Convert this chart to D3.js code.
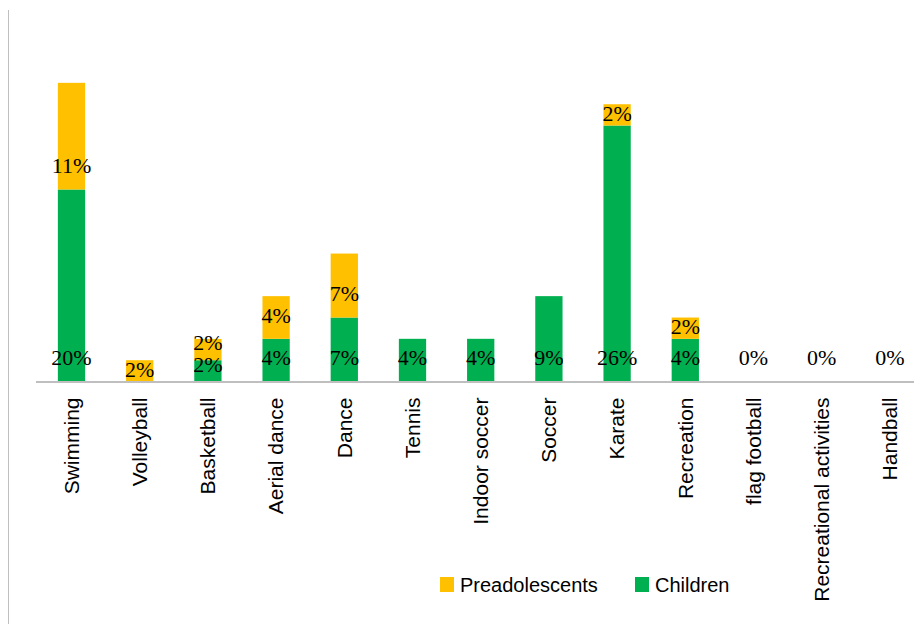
<!DOCTYPE html>
<html>
<head>
<meta charset="utf-8">
<script src="https://cdn.jsdelivr.net/npm/d3@7"></script>
<style>
  html, body { margin: 0; padding: 0; background: #fff; }
  svg { display: block; }
</style>
</head>
<body>
<div id="chart"></div>
<script>
const categories = ["Swimming", "Volleyball", "Basketball", "Aerial dance", "Dance", "Tennis",
  "Indoor soccer", "Soccer", "Karate", "Recreation", "flag football", "Recreational activities", "Handball"];
// Percent values (labels show rounded values)
const children = [19.57, 0, 2.17, 4.35, 6.52, 4.35, 4.35, 8.70, 26.09, 4.35, 0, 0, 0];
const preadolescents = [10.87, 2.17, 2.17, 4.35, 6.52, 0, 0, 0, 2.17, 2.17, 0, 0, 0];
const seriesNames = ["Children", "Preadolescents"];
const legendOrder = ["Preadolescents", "Children"];
const colors = { "Children": "#00B050", "Preadolescents": "#FFC000" };

const W = 914, H = 624;
const svg = d3.select("#chart").append("svg").attr("width", W).attr("height", H);

const baseY = 381.5;
const x = d3.scaleBand().domain(categories).range([37.4, 924]).paddingInner(0.6).paddingOuter(0.3);
const y = d3.scaleLinear().domain([0, 35]).range([baseY, baseY - 343.4]);

// left border line
svg.append("line").attr("x1", 8.5).attr("x2", 8.5).attr("y1", 10).attr("y2", H)
  .attr("stroke", "#BFBFBF").attr("stroke-width", 1);

const table = categories.map((c, i) => ({ cat: c, Children: children[i], Preadolescents: preadolescents[i] }));
const stack = d3.stack().keys(seriesNames)(table);

const g = svg.append("g");
stack.forEach(layer => {
  g.selectAll(null).data(layer).enter().append("rect")
    .attr("x", d => x(d.data.cat))
    .attr("width", x.bandwidth())
    .attr("y", d => y(d[1]))
    .attr("height", d => y(d[0]) - y(d[1]))
    .attr("fill", colors[layer.key]);
});

// axis line
svg.append("line").attr("x1", 36).attr("x2", W).attr("y1", 382).attr("y2", 382)
  .attr("stroke", "#BFBFBF").attr("stroke-width", 2);

// data labels (inside base)
const fmt = v => Math.round(v) + "%";
const labels = svg.append("g").attr("font-family", "'Liberation Serif', 'DejaVu Serif', serif")
  .attr("font-size", 22).attr("fill", "#000").attr("text-anchor", "middle");
stack.forEach(layer => {
  layer.forEach((d, i) => {
    const v = d[1] - d[0];
    const isChild = layer.key === "Children";
    const total = children[i] + preadolescents[i];
    if (v === 0 && !(isChild && total === 0)) return;
    const bottom = y(d[0]), top = y(d[1]);
    const h = bottom - top;
    const bothSmall = children[i] > 0 && preadolescents[i] > 0 &&
      y(0) - y(children[i]) < 40 && y(0) - y(preadolescents[i]) < 40;
    let cy;
    if (h >= 40 || v === 0) cy = bottom - 24;
    else cy = (top + bottom) / 2 - (bothSmall ? 7 : 1.5);
    labels.append("text")
      .attr("x", x(d.data.cat) + x.bandwidth() / 2)
      .attr("y", cy)
      .attr("dy", "0.35em")
      .text(fmt(v));
  });
});

// x axis labels (rotated)
const xAxis = d3.axisBottom(x).tickSize(0).tickPadding(0);
const axG = svg.append("g").attr("transform", `translate(0, ${baseY})`).call(xAxis);
axG.select(".domain").remove();
axG.selectAll("text")
  .attr("font-family", "'Liberation Sans', Arial, sans-serif")
  .attr("font-size", 21)
  .attr("fill", "#000")
  .attr("text-anchor", "end")
  .attr("transform", "rotate(-90)")
  .attr("x", -16)
  .attr("y", 0)
  .attr("dy", "0.35em");

// legend
const legend = svg.append("g").attr("font-family", "'Liberation Sans', Arial, sans-serif").attr("font-size", 20);
const legendPos = { "Preadolescents": 440, "Children": 635 };
legendOrder.forEach(name => {
  const lx = legendPos[name];
  legend.append("rect").attr("x", lx).attr("y", 577).attr("width", 14).attr("height", 15)
    .attr("fill", colors[name]);
  legend.append("text").attr("x", lx + 20).attr("y", 592).attr("fill", "#000").text(name);
});
</script>
</body>
</html>
